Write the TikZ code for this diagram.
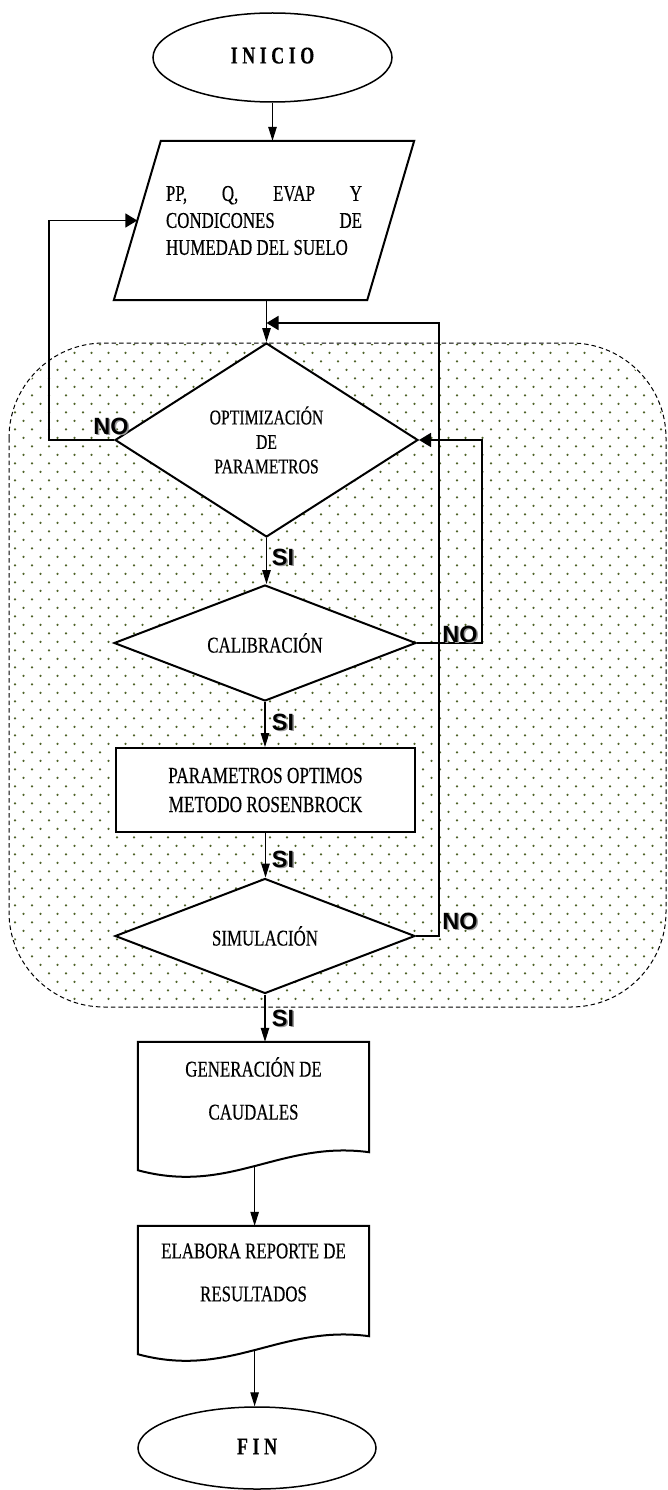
\documentclass[tikz,border=0pt]{standalone}
\usepackage{fontspec}
\setmainfont{Liberation Serif}[FakeStretch=0.75, FakeBold=0.3]
\newfontfamily\lblfont{Liberation Sans}
\usetikzlibrary{arrows.meta,shapes.geometric,calc}
\definecolor{dotgreen}{HTML}{4F6228}

\pgfdeclarelayer{dots}
\pgfdeclarelayer{shapes}
\pgfsetlayers{dots,shapes,main}

\tikzset{
  shapeline/.style={draw=black, line width=2pt, fill=white},
  terminal/.style={ellipse, draw=black, line width=1.5pt, fill=white, inner sep=0pt,
    font=\bfseries\fontsize{24}{24}\selectfont},
  decision/.style={diamond, shapeline, inner sep=0pt, align=center},
  body/.style={inner sep=0pt, align=center, font=\fontsize{22.5}{27}\selectfont},
  flow/.style={line width=1.1pt, -{Triangle[length=14pt,width=8.5pt]}},
  loop/.style={line width=1.8pt, -{Triangle[length=12pt,width=14pt]}},
  answer/.style={inner sep=0pt, font=\lblfont\bfseries\fontsize{23.5}{23.5}\selectfont},
  zone/.style={rounded corners=95pt},
}

% bold answer label with a soft grey shadow
\newcommand\answerlabel[3]{%
  \node[answer, text=black!40] (#1-sh) at ($(#2)+(1.5,1.5)$) {#3};
  \node[answer] (#1) at (#2) {#3};
}

\begin{document}
\begin{tikzpicture}[x=1pt, y=-1pt]
\useasboundingbox (0,0) rectangle (667,1490);

% ---- dotted zone around the optimisation loop ----
\begin{pgfonlayer}{dots}
  \begin{scope}
    \clip[zone] (10,344) rectangle (665,1006);
    \foreach \j in {0,...,78}{
      \pgfmathsetmacro\yy{344.3+8.5*\j}
      \pgfmathsetmacro\xo{mod(\j,2)==0 ? 15 : 6.5}
      \foreach \k in {0,...,39}{
        \fill[dotgreen] (\xo+17*\k,\yy) circle[radius=1.25pt];
      }
    }
  \end{scope}
  \draw[zone, line width=1pt, dash pattern=on 4.5pt off 3pt] (9,343) rectangle (666,1007);
\end{pgfonlayer}

% ---- nodes ----
\node[terminal, minimum width=239pt, minimum height=89pt] (inicio) at (272.5,57.5)
  {\raisebox{4pt}{I N I C I O}};

\node[body, minimum width=300pt, minimum height=159pt, align=left] (datos) at (264,220.5)
  {\makebox[196pt][s]{PP, Q, EVAP Y}\\
   \makebox[196pt][s]{CONDICONES DE}\\
   HUMEDAD DEL SUELO};
\coordinate (datosin) at ($(datos.south west)!0.5!([xshift=47pt]datos.north west)$);

\node[decision, minimum width=303pt, minimum height=194pt,
      font=\fontsize{21}{24.5}\selectfont] (optim) at (266.5,440)
  {OPTIMIZACIÓN\\DE\\PARAMETROS};

\node[decision, shape aspect=2.6, minimum width=302pt, minimum height=116pt,
      font=\fontsize{22.5}{22.5}\selectfont] (calib) at (265,643) {CALIBRACIÓN};

\node[shapeline, body, minimum width=299pt, minimum height=84pt,
      font=\fontsize{23}{29}\selectfont] (param) at (265.5,790)
  {PARAMETROS OPTIMOS\\METODO ROSENBROCK};

\node[decision, shape aspect=2.6, minimum width=300pt, minimum height=115pt,
      font=\fontsize{22.5}{22.5}\selectfont] (sim) at (265,936) {SIMULACIÓN};

\node[body, minimum width=231pt, minimum height=93pt,
      font=\fontsize{22.5}{43}\selectfont] (gen) at (253.5,1088.5)
  {GENERACIÓN DE\\CAUDALES};

\node[body, minimum width=231pt, minimum height=93pt,
      font=\fontsize{22.5}{43}\selectfont] (rep) at (253.5,1272.5)
  {ELABORA REPORTE DE\\RESULTADOS};

\node[terminal, minimum width=238pt, minimum height=82pt] (fin) at (257,1448)
  {\raisebox{3pt}{F I N}};

% ---- outlines drawn behind the text ----
\begin{pgfonlayer}{shapes}
  % input parallelogram
  \draw[shapeline] (datos.south west) -- ([xshift=-47pt]datos.south east)
    -- (datos.north east) -- ([xshift=47pt]datos.north west) -- cycle;
  % document shapes with a wavy bottom edge
  \draw[shapeline] (gen.north west) -- (gen.north east) -- ($(gen.south east)+(0,17)$)
    .. controls ($(gen.south east)+(-89,5)$) and ($(gen.south west)+(92,60)$)
    .. ($(gen.south west)+(0,35)$) coordinate[pos=0.5] (genout) -- cycle;
  \draw[shapeline] (rep.north west) -- (rep.north east) -- ($(rep.south east)+(0,17)$)
    .. controls ($(rep.south east)+(-89,5)$) and ($(rep.south west)+(92,60)$)
    .. ($(rep.south west)+(0,35)$) coordinate[pos=0.5] (repout) -- cycle;
\end{pgfonlayer}

% ---- main flow ----
\draw[flow] (inicio.south) -- (inicio.south |- datos.north);
\draw[flow] (optim.north |- datos.south) -- (optim.north);
\draw[flow] (optim.south) -- (optim.south |- calib.north);
\draw[flow] (calib.south) -- (calib.south |- param.north);
\draw[flow] (param.south) -- (param.south |- sim.north);
\draw[flow] (sim.south) -- (sim.south |- gen.north);
\draw[flow] (genout) -- (genout |- rep.north);
\draw[flow] (repout) -- (repout |- fin.north);

% ---- return paths ----
\coordinate (loopA) at (439,323);
\coordinate (loopB) at (482,0);
\coordinate (loopC) at (49,0);
\draw[loop] (optim.west) -| (loopC |- datosin) -- (datosin);
\draw[loop] (calib.east) -| (loopB |- optim.east) -- (optim.east);
\draw[loop] (sim.east) -| (loopA) -- (optim.north |- loopA);

% ---- answers ----
\answerlabel{noA}{111,426}{NO}
\answerlabel{noB}{460,634}{NO}
\answerlabel{noC}{460,921}{NO}
\answerlabel{siA}{283,557}{SI}
\answerlabel{siB}{283,722}{SI}
\answerlabel{siC}{283,859}{SI}
\answerlabel{siD}{283,1018}{SI}
\end{tikzpicture}
\end{document}
